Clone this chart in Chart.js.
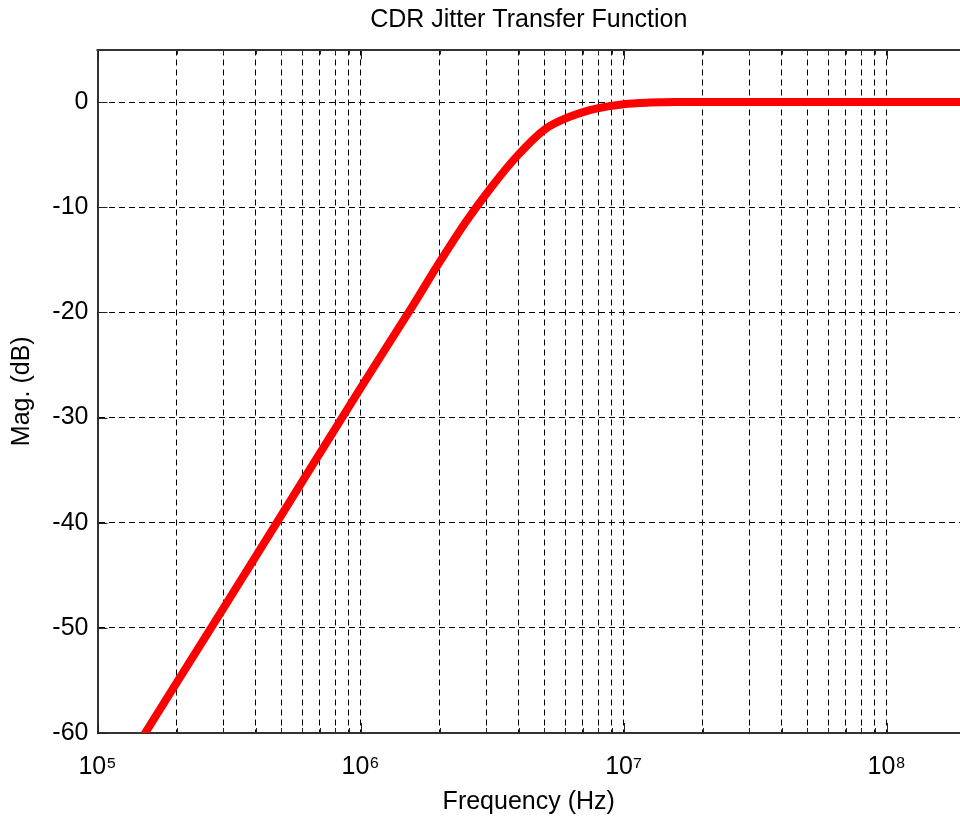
<!DOCTYPE html>
<html>
<head>
<meta charset="utf-8">
<script src="https://cdn.jsdelivr.net/npm/chart.js@4/dist/chart.umd.min.js"></script>
<style>
html,body{margin:0;padding:0;background:#fff;overflow:hidden}
#wrap{width:960px;height:819px}
</style>
</head>
<body>
<div id="wrap"><canvas id="c" width="960" height="819"></canvas></div>
<script>
// ---- data ----
const chartTitle = 'CDR Jitter Transfer Function';
const xTitle = 'Frequency (Hz)';
const yTitle = 'Mag. (dB)';

const freqHz = [1.4e5, 3.0e5, 6.0e5, 1.0e6, 1.585e6, 2.0e6, 2.512e6, 3.162e6, 3.981e6, 5.012e6, 6.31e6, 7.943e6, 1.0e7, 1.259e7, 1.585e7, 2.0e7, 1e8, 2e8];
const magDb  = [-61.4, -48.2, -36.1, -27.2, -19.3, -15.2, -11.4, -8.0, -5.0, -2.6, -1.35, -0.6, -0.2, -0.05, 0, 0, 0, 0];

const xMajorTicks = [1e5, 1e6, 1e7, 1e8];
const xTickLabels = ['10\u2075', '10\u2076', '10\u2077', '10\u2078'];
const xMinorTicks = [2e5,3e5,4e5,5e5,6e5,7e5,8e5,9e5, 2e6,3e6,4e6,5e6,6e6,7e6,8e6,9e6, 2e7,3e7,4e7,5e7,6e7,7e7,8e7,9e7];
const yTicks = [-60, -50, -40, -30, -20, -10, 0];
const xRange = [1e5, 1.9e8];
const yRange = [-60, 5];

// ---- chart ----
const FONT = "'Liberation Sans', Arial, Helvetica, sans-serif";
Chart.defaults.font.family = FONT;
Chart.defaults.color = '#000';

const allXTicks = xMajorTicks.concat(xMinorTicks).sort((a,b)=>a-b);

const frame = {
  id: 'frame',
  beforeDatasetsDraw(chart) {
    const {ctx, chartArea: a, scales: {x, y}} = chart;
    ctx.save();
    ctx.strokeStyle = '#222';
    ctx.lineWidth = 1;
    ctx.beginPath();
    allXTicks.forEach(v => {
      const px = Math.round(x.getPixelForValue(v)) + 0.5;
      if (px < a.left || px > a.right) return;
      const len = xMajorTicks.includes(v) ? 10 : 5;
      ctx.moveTo(px, a.bottom); ctx.lineTo(px, a.bottom - len);
      ctx.moveTo(px, a.top); ctx.lineTo(px, a.top + len);
    });
    yTicks.forEach(v => {
      const py = Math.round(y.getPixelForValue(v)) + 0.5;
      ctx.moveTo(a.left, py); ctx.lineTo(a.left + 10, py);
    });
    ctx.stroke();
    // top border
    ctx.strokeStyle = '#333';
    ctx.lineWidth = 2;
    ctx.beginPath();
    ctx.moveTo(a.left - 1, Math.round(a.top));
    ctx.lineTo(a.right, Math.round(a.top));
    ctx.stroke();
    ctx.restore();
  }
};

new Chart(document.getElementById('c'), {
  type: 'line',
  data: {
    datasets: [{
      label: 'Jitter transfer',
      data: freqHz.map((f, i) => ({x: f, y: magDb[i]})),
      borderColor: '#ff0000',
      backgroundColor: '#ff0000',
      borderWidth: 8,
      pointRadius: 0,
      cubicInterpolationMode: 'monotone',
      fill: false,
      clip: 0
    }]
  },
  options: {
    responsive: false,
    animation: false,
    devicePixelRatio: 1,
    layout: {padding: {left: 0, right: 0, top: 0, bottom: 0}},
    plugins: {
      legend: {display: false},
      tooltip: {enabled: false},
      title: {
        display: true,
        text: chartTitle,
        fullSize: false,
        color: '#000',
        font: {size: 25, weight: 'normal', family: FONT},
        padding: {top: 5, bottom: 14.5}
      }
    },
    scales: {
      x: {
        type: 'logarithmic',
        min: xRange[0],
        max: xRange[1],
        afterBuildTicks: s => { s.ticks = allXTicks.map(v => ({value: v, major: xMajorTicks.includes(v)})); },
        afterFit: s => { s.height = 86; },
        grid: {display: true, color: '#000', lineWidth: 1, drawTicks: false},
        border: {display: true, color: '#333', width: 2, dash: [6, 4]},
        ticks: {
          autoSkip: false,
          maxRotation: 0,
          minRotation: 0,
          padding: 19,
          color: '#000',
          font: {size: 25, family: FONT},
          callback: v => { const i = xMajorTicks.indexOf(v); return i >= 0 ? xTickLabels[i] : ''; }
        },
        title: {
          display: true,
          text: xTitle,
          color: '#000',
          font: {size: 25, family: FONT},
          padding: {top: 0, bottom: 2}
        }
      },
      y: {
        type: 'linear',
        min: yRange[0],
        max: yRange[1],
        afterBuildTicks: s => { s.ticks = yTicks.map(v => ({value: v})); },
        afterFit: s => { s.width = 97.5; },
        grid: {display: true, color: '#000', lineWidth: 1, drawTicks: false},
        border: {display: true, color: '#333', width: 2, dash: [6, 4]},
        ticks: {
          padding: 9,
          color: '#000',
          font: {size: 25, family: FONT},
          callback: v => String(v)
        },
        title: {
          display: true,
          text: yTitle,
          color: '#000',
          font: {size: 25, family: FONT},
          padding: {top: 7, bottom: 0}
        }
      }
    }
  },
  plugins: [frame]
});
</script>
</body>
</html>
